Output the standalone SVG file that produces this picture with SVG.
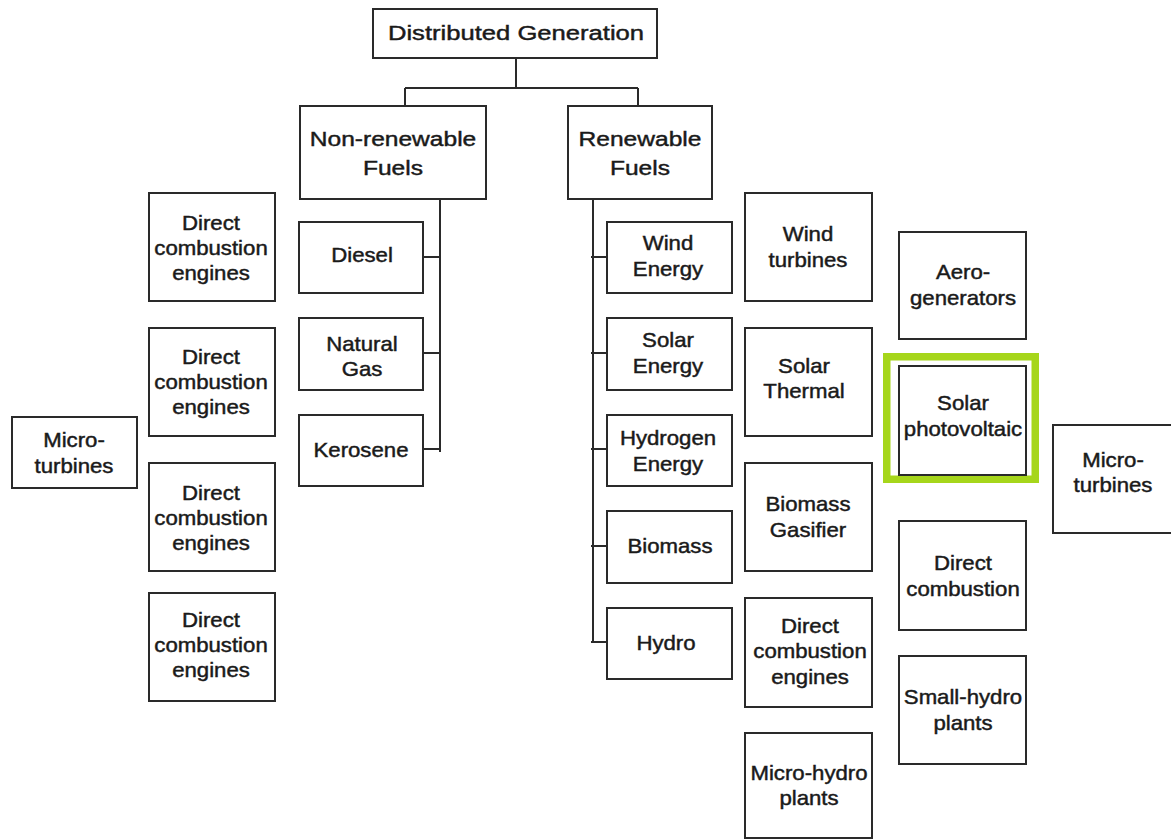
<svg xmlns="http://www.w3.org/2000/svg" width="1171" height="840" viewBox="0 0 1171 840">
  <style>
    .box { fill: #ffffff; stroke: #2a2a2a; stroke-width: 2; }
    .wire { fill: none; stroke: #2a2a2a; stroke-width: 2; }
    .hl { fill: none; stroke: #a6d61b; stroke-width: 7.5; }
    text { font-family: "Liberation Sans", Arial, sans-serif; fill: #1a1a1a; stroke: #1a1a1a; stroke-width: 0.45; text-anchor: middle; }
    .t { font-size: 20px; }
    .big { font-size: 21px; }
  </style>
  <rect width="1171" height="840" fill="#ffffff" stroke="none"/>

  <!-- connectors -->
  <g id="connectors">
    <path class="wire" d="M516 58 V88 M405 88 H638 M405 88 V106 M638 88 V106"/>
    <path class="wire" d="M440 199 V452 M423 257 H440 M423 353 H440 M423 449 H440"/>
    <path class="wire" d="M593 199 V643 M591 257 H607 M591 353 H607 M591 449 H607 M591 546 H607 M591 642 H607"/>
  </g>

  <!-- root -->
  <g id="distributed-generation">
    <rect class="box" x="373" y="9" width="284" height="49"/>
    <text class="big" transform="translate(516 40) scale(1.22 1)">Distributed Generation</text>
  </g>

  <!-- fuel categories -->
  <g id="non-renewable">
    <rect class="box" x="300" y="106" width="186" height="93"/>
    <text class="big" transform="translate(393 145.5) scale(1.17 1)">Non-renewable</text>
    <text class="big" transform="translate(393 175) scale(1.17 1)">Fuels</text>
  </g>
  <g id="renewable">
    <rect class="box" x="568" y="106" width="144" height="93"/>
    <text class="big" transform="translate(640 145.5) scale(1.17 1)">Renewable</text>
    <text class="big" transform="translate(640 175) scale(1.17 1)">Fuels</text>
  </g>

  <!-- non-renewable sources -->
  <g id="diesel">
    <rect class="box" x="299" y="222" width="124" height="71"/>
    <text class="t" transform="translate(362 262) scale(1.11 1)">Diesel</text>
  </g>
  <g id="natural-gas">
    <rect class="box" x="299" y="318" width="124" height="72"/>
    <text class="t" transform="translate(362 351) scale(1.11 1)">Natural</text>
    <text class="t" transform="translate(362 376) scale(1.11 1)">Gas</text>
  </g>
  <g id="kerosene">
    <rect class="box" x="299" y="415" width="124" height="71"/>
    <text class="t" transform="translate(361 457) scale(1.11 1)">Kerosene</text>
  </g>

  <!-- non-renewable technologies -->
  <g id="dce-1">
    <rect class="box" x="149" y="193" width="126" height="108"/>
    <text class="t" transform="translate(211 229.5) scale(1.11 1)">Direct</text>
    <text class="t" transform="translate(211 254.5) scale(1.11 1)">combustion</text>
    <text class="t" transform="translate(211 279.5) scale(1.11 1)">engines</text>
  </g>
  <g id="dce-2">
    <rect class="box" x="149" y="328" width="126" height="108"/>
    <text class="t" transform="translate(211 364) scale(1.11 1)">Direct</text>
    <text class="t" transform="translate(211 389) scale(1.11 1)">combustion</text>
    <text class="t" transform="translate(211 414) scale(1.11 1)">engines</text>
  </g>
  <g id="dce-3">
    <rect class="box" x="149" y="463" width="126" height="108"/>
    <text class="t" transform="translate(211 499.5) scale(1.11 1)">Direct</text>
    <text class="t" transform="translate(211 524.5) scale(1.11 1)">combustion</text>
    <text class="t" transform="translate(211 549.5) scale(1.11 1)">engines</text>
  </g>
  <g id="dce-4">
    <rect class="box" x="149" y="593" width="126" height="108"/>
    <text class="t" transform="translate(211 626.5) scale(1.11 1)">Direct</text>
    <text class="t" transform="translate(211 651.5) scale(1.11 1)">combustion</text>
    <text class="t" transform="translate(211 676.5) scale(1.11 1)">engines</text>
  </g>
  <g id="micro-turbines-left">
    <rect class="box" x="12" y="417" width="125" height="71"/>
    <text class="t" transform="translate(74 447) scale(1.11 1)">Micro-</text>
    <text class="t" transform="translate(74 473) scale(1.11 1)">turbines</text>
  </g>

  <!-- renewable sources -->
  <g id="wind-energy">
    <rect class="box" x="607" y="222" width="125" height="71"/>
    <text class="t" transform="translate(668 250) scale(1.11 1)">Wind</text>
    <text class="t" transform="translate(668 276) scale(1.11 1)">Energy</text>
  </g>
  <g id="solar-energy">
    <rect class="box" x="607" y="318" width="125" height="72"/>
    <text class="t" transform="translate(668 347) scale(1.11 1)">Solar</text>
    <text class="t" transform="translate(668 373) scale(1.11 1)">Energy</text>
  </g>
  <g id="hydrogen-energy">
    <rect class="box" x="607" y="415" width="125" height="71"/>
    <text class="t" transform="translate(668 445) scale(1.11 1)">Hydrogen</text>
    <text class="t" transform="translate(668 471) scale(1.11 1)">Energy</text>
  </g>
  <g id="biomass">
    <rect class="box" x="607" y="511" width="125" height="72"/>
    <text class="t" transform="translate(670 553) scale(1.11 1)">Biomass</text>
  </g>
  <g id="hydro">
    <rect class="box" x="607" y="608" width="125" height="71"/>
    <text class="t" transform="translate(666 650) scale(1.11 1)">Hydro</text>
  </g>

  <!-- renewable technologies -->
  <g id="wind-turbines">
    <rect class="box" x="745" y="193" width="127" height="108"/>
    <text class="t" transform="translate(808 241) scale(1.11 1)">Wind</text>
    <text class="t" transform="translate(808 267) scale(1.11 1)">turbines</text>
  </g>
  <g id="solar-thermal">
    <rect class="box" x="745" y="328" width="127" height="108"/>
    <text class="t" transform="translate(804 372.5) scale(1.11 1)">Solar</text>
    <text class="t" transform="translate(804 398) scale(1.11 1)">Thermal</text>
  </g>
  <g id="biomass-gasifier">
    <rect class="box" x="745" y="463" width="127" height="108"/>
    <text class="t" transform="translate(808 511) scale(1.11 1)">Biomass</text>
    <text class="t" transform="translate(808 537) scale(1.11 1)">Gasifier</text>
  </g>
  <g id="dce-renewable">
    <rect class="box" x="745" y="598" width="127" height="109"/>
    <text class="t" transform="translate(810 632.5) scale(1.11 1)">Direct</text>
    <text class="t" transform="translate(810 658) scale(1.11 1)">combustion</text>
    <text class="t" transform="translate(810 683.5) scale(1.11 1)">engines</text>
  </g>
  <g id="micro-hydro">
    <rect class="box" x="745" y="733" width="127" height="105"/>
    <text class="t" transform="translate(809 780) scale(1.11 1)">Micro-hydro</text>
    <text class="t" transform="translate(809 805) scale(1.11 1)">plants</text>
  </g>

  <g id="aero-generators">
    <rect class="box" x="899" y="232" width="127" height="107"/>
    <text class="t" transform="translate(963 279) scale(1.11 1)">Aero-</text>
    <text class="t" transform="translate(963 305) scale(1.11 1)">generators</text>
  </g>
  <g id="solar-photovoltaic">
    <rect class="hl" x="886.75" y="356.75" width="148.5" height="122.5"/>
    <rect class="box" x="899" y="366" width="127" height="109"/>
    <text class="t" transform="translate(963 410) scale(1.11 1)">Solar</text>
    <text class="t" transform="translate(963 436) scale(1.11 1)">photovoltaic</text>
  </g>
  <g id="direct-combustion">
    <rect class="box" x="899" y="521" width="127" height="109"/>
    <text class="t" transform="translate(963 570) scale(1.11 1)">Direct</text>
    <text class="t" transform="translate(963 596) scale(1.11 1)">combustion</text>
  </g>
  <g id="small-hydro">
    <rect class="box" x="899" y="656" width="127" height="108"/>
    <text class="t" transform="translate(963 704) scale(1.11 1)">Small-hydro</text>
    <text class="t" transform="translate(963 729.5) scale(1.11 1)">plants</text>
  </g>
  <g id="micro-turbines-right">
    <rect class="box" x="1053" y="425" width="130" height="108"/>
    <text class="t" transform="translate(1113 467) scale(1.11 1)">Micro-</text>
    <text class="t" transform="translate(1113 492) scale(1.11 1)">turbines</text>
  </g>
</svg>
